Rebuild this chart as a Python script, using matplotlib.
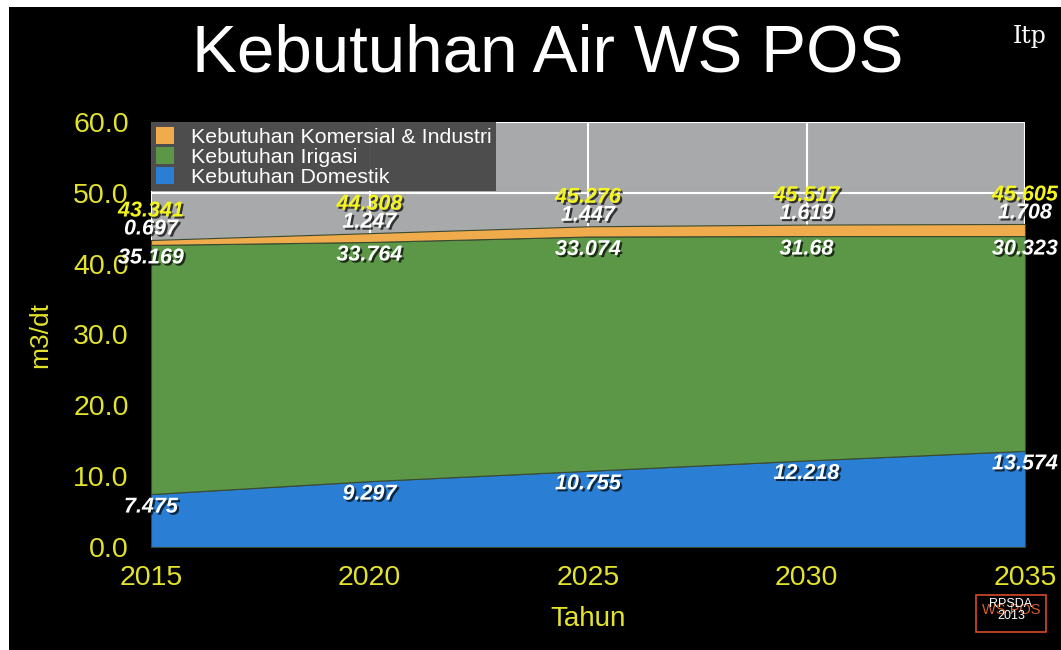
import matplotlib
matplotlib.use("Agg")
import matplotlib.pyplot as plt
import matplotlib.patheffects as pe
from matplotlib.patches import Rectangle, Patch

plt.rcParams['font.family'] = ['Liberation Sans', 'DejaVu Sans']

years = [2015, 2020, 2025, 2030, 2035]
domestik = [7.475, 9.297, 10.755, 12.218, 13.574]
irigasi = [35.169, 33.764, 33.074, 31.68, 30.323]
komersial = [0.697, 1.247, 1.447, 1.619, 1.708]
total = [43.341, 44.308, 45.276, 45.517, 45.605]
series_names = ["Kebutuhan Komersial & Industri", "Kebutuhan Irigasi", "Kebutuhan Domestik"]
yticks = [0, 10, 20, 30, 40, 50, 60]

c_orange = "#f0ac4c"
c_green = "#5b9747"
c_blue = "#2a7fd5"
c_bg = "#a7a9aa"
yellow = "#e3e32c"

W, H = 1061, 650
fig = plt.figure(figsize=(W / 100, H / 100), dpi=100)
fig.patch.set_facecolor("black")
fig.patches.append(Rectangle((0, 1 - 7 / H), 1, 7 / H, transform=fig.transFigure,
                             facecolor="white", edgecolor="none"))
fig.patches.append(Rectangle((0, 0), 9 / W, 1, transform=fig.transFigure,
                             facecolor="white", edgecolor="none"))

ax = fig.add_axes([151 / W, 103 / H, (1025 - 151) / W, (547 - 122) / H])
ax.set_zorder(2)
ax.set_facecolor(c_bg)
ax.set_xlim(2015, 2035)
ax.set_ylim(0, 60)

ax.stackplot(years, domestik, irigasi, komersial,
             colors=[c_blue, c_green, c_orange], zorder=2,
             edgecolor="#3a4a30", linewidth=0.8)

ax.set_xticks(years)
ax.set_yticks(yticks)
ax.set_yticklabels([f"{v:.1f}" for v in yticks])
ax.grid(True, color="white", linewidth=1.5, zorder=1)
ax.set_axisbelow(True)
ax.tick_params(axis="both", length=0, colors=yellow, labelsize=20.5)
ax.tick_params(axis="y", pad=16)
ax.tick_params(axis="x", pad=13)
for s in ax.spines.values():
    s.set_visible(False)

ax.set_xlabel("Tahun", color=yellow, fontsize=20, labelpad=11)
ax.set_ylabel("m3/dt", color=yellow, fontsize=19, labelpad=15)

shadow = [pe.SimplePatchShadow(offset=(1.5, -1.5), shadow_rgbFace="black", alpha=0.7), pe.Normal()]
lab_kw = dict(ha="center", va="center", fontsize=15.5, fontweight="bold", fontstyle="italic",
              clip_on=False, zorder=5, path_effects=shadow)

for i, x in enumerate(years):
    d = domestik[i]
    g = d + irigasi[i]
    t = g + komersial[i]
    ax.annotate(f"{domestik[i]:g}", (x, d), xytext=(0, -13), textcoords="offset pixels",
                color="white", **lab_kw)
    ax.annotate(f"{irigasi[i]:g}", (x, g), xytext=(0, -13), textcoords="offset pixels",
                color="white", **lab_kw)
    ax.annotate(f"{komersial[i]:g}", (x, t), xytext=(0, 11), textcoords="offset pixels",
                color="white", **lab_kw)
    ax.annotate(f"{total[i]:.3f}", (x, t), xytext=(0, 29), textcoords="offset pixels",
                color="#f5f51e", **lab_kw)

handles = [Patch(facecolor=c_orange), Patch(facecolor=c_green), Patch(facecolor=c_blue)]
leg = ax.legend(handles, series_names, loc="upper left", bbox_to_anchor=(0, 1),
                borderaxespad=0, frameon=True, fancybox=False, fontsize=15.4,
                labelcolor="white", handlelength=0.85, handleheight=0.85,
                handletextpad=0.8, labelspacing=0.0, borderpad=0.22)
leg.get_frame().set_facecolor("#4a4a4a")
leg.get_frame().set_alpha(0.97)
leg.get_frame().set_edgecolor("none")
leg.set_zorder(10)

fig.text(548 / W, 1 - 55 / H, "Kebutuhan Air WS POS", color="white", fontsize=48.5,
         ha="center", va="center")
fig.text(1030 / W, 1 - 37 / H, "Itp", color="white", fontsize=17, family="DejaVu Serif",
         ha="center", va="center")

fig.patches.append(Rectangle((976 / W, 1 - 632 / H), 70 / W, 37 / H, transform=fig.transFigure,
                             facecolor="none", edgecolor="#d84a2a", linewidth=1.2))
fig.text(1011 / W, 1 - 610 / H, "WS POS", color="#d8602e", fontsize=10.5, ha="center", va="center")
fig.text(1011 / W, 1 - 610 / H, "RPSDA\n2013", color="white", fontsize=9, ha="center",
         va="center", linespacing=0.9)

fig.savefig("out.png", dpi=100, facecolor=fig.get_facecolor())
